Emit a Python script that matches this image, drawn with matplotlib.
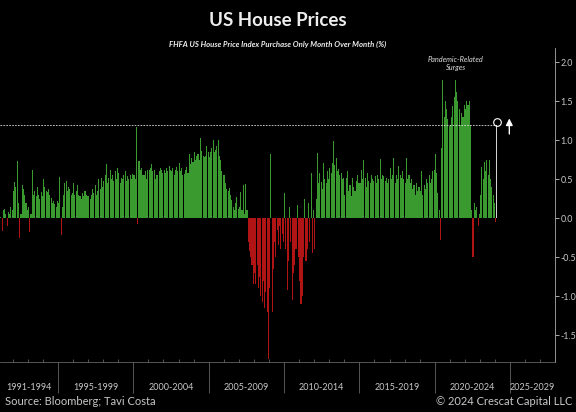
import numpy as np
import matplotlib.pyplot as plt
import matplotlib.transforms as mtransforms
from matplotlib.patches import FancyArrowPatch

# FHFA purchase-only HPI, month over month (%), Feb 1991 .. Feb 2024
mom_1991_1994 = [
    0.45, 0.02, -0.16, 0.1, 0.12, 0.05, -0.1, 0.08, 0.05, 0.15, 0.1,
    0.35, 0.46, 0.4, 0.73, 0.2, -0.25, 0.05, 0.43, 0.37, 0.3, 0.2, 0.1,
    0.15, -0.18, 0.05, 0.62, 0.3, 0.35, 0.28, 0.4, 0.3, 0.25, 0.33, 0.28,
    0.5, 0.4, 0.35, 0.33, 0.38, 0.3, 0.26, 0.2, 0.22, 0.18, 0.15, 0.22,
]
mom_1995_1999 = [
    0.2, 0.53, -0.22, 0.15, 0.3, 0.45, 0.48, 0.35, 0.4, 0.37, 0.3, 0.32,
    0.45, 0.3, 0.35, 0.42, 0.3, 0.28, 0.25, 0.32, 0.28, 0.35, 0.3, 0.28,
    0.28, 0.24, 0.3, 0.37, 0.32, 0.42, 0.3, 0.35, 0.5, 0.38, 0.52, 0.4,
    0.48, 0.55, 0.7, 0.45, 0.52, 0.62, 0.5, 0.56, 0.48, 0.6, 0.5, 0.65,
    0.58, 0.45, 0.52, 0.5, 0.55, 0.6, 0.48, 0.54, 0.5, 0.56, 0.5, 0.57,
]
mom_2000_2004 = [
    0.55, 0.5, 1.17, -0.08, 0.73, 0.62, 0.65, 0.55, 0.56, 0.6, 0.5, 0.62,
    0.62, 0.65, 0.7, 0.6, 0.62, 0.5, 0.56, 0.55, 0.6, 0.64, 0.62, 0.58,
    0.62, 0.58, 0.65, 0.6, 0.67, 0.62, 0.6, 0.65, 0.55, 0.62, 0.66, 0.6,
    0.71, 0.6, 0.65, 0.55, 0.57, 0.62, 0.66, 0.58, 0.82, 0.7, 0.77, 0.72,
    0.85, 0.74, 0.8, 0.82, 0.75, 1.03, 0.86, 0.8, 0.78, 0.8, 0.92, 0.85,
]
mom_2005_2009 = [
    0.78, 0.85, 0.9, 1.0, 0.85, 0.88, 0.92, 1.0, 0.8, 0.75, 0.6, 0.55,
    0.55, 0.45, 0.38, 0.35, 0.39, 0.3, 0.23, 0.15, 0.1, 0.2, 0.27, 0.12,
    0.15, 0.33, 0.1, 0.42, 0.05, 0.44, 0.1, -0.3, -0.42, -0.5, -0.6, -0.85,
    -0.7, -0.85, -0.6, -0.9, -0.75, -1.0, -1.07, -0.8, -1.15, -0.95, -1.2, -1.8,
    -0.9, 0.82, -1.2, -0.65, -0.3, -0.5, -0.15, -0.35, -0.1, -0.4, -0.2, -0.3,
]
mom_2010_2014 = [
    0.32, -0.4, -0.92, -0.55, 0.15, -0.3, -1.05, -0.7, -0.6, -0.4, 0.17, -0.5,
    -0.8, -1.1, -1.0, -0.5, 0.25, -0.55, -0.4, 0.2, -0.3, 0.58, -0.45, 0.1,
    -0.4, 0.25, 0.84, 0.45, 0.58, 0.47, 0.37, 0.71, 0.5, 0.45, 0.6, 0.5,
    0.65, 0.58, 0.71, 0.99, 0.68, 0.77, 0.6, 0.63, 0.55, 0.58, 0.5, 0.52,
    0.3, 0.52, 0.6, 0.35, 0.43, 0.28, 0.52, 0.4, 0.35, 0.48, 0.56, 0.45,
]
mom_2015_2019 = [
    0.45, 0.62, 0.5, 0.75, 0.52, 0.4, 0.58, 0.48, 0.45, 0.56, 0.5, 0.48,
    0.54, 0.45, 0.56, 0.5, 0.76, 0.5, 0.56, 0.54, 0.48, 0.52, 0.45, 0.5,
    0.65, 0.5, 0.55, 0.77, 0.45, 0.56, 0.5, 0.67, 0.55, 0.52, 0.6, 0.5,
    0.45, 0.77, 0.5, 0.55, 0.45, 0.5, 0.38, 0.42, 0.3, 0.45, 0.35, 0.4,
    0.35, 0.6, 0.3, 0.42, 0.38, 0.5, 0.45, 0.55, 0.45, 0.5, 0.6, 0.62,
]
mom_2020_2024 = [
    0.82, 0.58, 0.32, 0.1, -0.28, 0.9, 1.77, 1.3, 1.5, 1.4, 1.27, 1.18,
    1.2, 1.3, 1.44, 1.55, 1.77, 1.62, 1.5, 1.4, 1.2, 1.35, 1.3, 1.45,
    1.4, 1.5, 1.45, 1.5, 1.2, 0.1, -0.5, 0.2, 0.1, 0.15, -0.1, 0.05,
    0.3, 0.66, 0.5, 0.72, 0.6, 0.75, 0.55, 0.75, 0.5, 0.4, 0.3, 0.2,
    -0.05, 1.2,
]
start_year, start_month = 1991, 2

period_labels = ["1991-1994", "1995-1999", "2000-2004", "2005-2009",
                 "2010-2014", "2015-2019", "2020-2024", "2025-2029"]
period_starts = [1991, 1995, 2000, 2005, 2010, 2015, 2020, 2025]
x_min, x_max = 1991.15, 2027.98

values = np.array(mom_1991_1994 + mom_1995_1999 + mom_2000_2004 + mom_2005_2009
                  + mom_2010_2014 + mom_2015_2019 + mom_2020_2024)
# month centres as decimal years
t = start_year + (start_month - 1 + np.arange(len(values)) + 0.5) / 12
last_t, last_v = t[-1], values[-1]

green = '#3a9a30'
red = '#b01414'
grey = '#c8c8c8'

plt.rcParams['font.family'] = ['Lato', 'DejaVu Sans']
plt.rcParams['axes.unicode_minus'] = False
fig = plt.figure(figsize=(5.76, 4.12), dpi=100, facecolor='black')
ax = fig.add_axes([0.0, 0.121, 0.9635, 0.762], facecolor='black')

colors = np.where(values >= 0, green, red).tolist()
colors[-1] = '#d0d0d0'
ax.bar(t, values, width=1 / 12 * 0.85, color=colors, linewidth=0)

ax.set_xlim(x_min, x_max)
ax.set_ylim(-1.846, 2.18)

# right-hand value axis
ax.yaxis.tick_right()
ax.set_yticks(np.arange(-1.5, 2.01, 0.5))
ax.yaxis.set_major_formatter(plt.FormatStrFormatter('%.1f'))
ax.tick_params(axis='y', colors=grey, labelsize=6.4, length=3, width=0.6, pad=1)

# bottom period axis
ax.set_xticks(period_starts[1:])
ax.set_xticks(np.arange(1992, 2028), minor=True)
ax.tick_params(axis='x', which='major', direction='out', length=22, width=0.5,
               color='#777777', labelbottom=False)
ax.tick_params(axis='x', which='minor', direction='in', length=2, width=0.5,
               color='#777777')
for s in ['top', 'left']:
    ax.spines[s].set_visible(False)
ax.spines['right'].set_color('#aaaaaa')
ax.spines['right'].set_linewidth(0.6)
ax.spines['bottom'].set_color('#777777')
ax.spines['bottom'].set_linewidth(0.5)

trans = mtransforms.blended_transform_factory(ax.transData, ax.transAxes)
edges = period_starts + [2030]
for lab, a, b in zip(period_labels, edges[:-1], edges[1:]):
    lo, hi = max(a, x_min), min(b, x_max)
    ax.text((lo + hi) / 2, -0.082, lab, transform=trans, ha='center', va='center',
            fontsize=6.5, color=grey, clip_on=False)

# latest reading marker
ax.plot([x_min, last_t - 0.12], [last_v, last_v], color='#dddddd', lw=0.6,
        ls=(0, (2, 1.5)))
ax.plot(last_t, last_v + 0.04, 'o', ms=5.5, mfc='none', mec='white', mew=0.8)
ax.add_patch(FancyArrowPatch((2024.95, last_v - 0.12), (2024.95, last_v + 0.08),
                             arrowstyle='-|>,head_width=2,head_length=4',
                             color='white', lw=1.0, shrinkA=0, shrinkB=0))
ax.text(1.017, last_v, f'{last_v:.1f}', transform=trans, ha='left', va='center',
        fontsize=7, color='#e8ffe0', clip_on=False,
        bbox=dict(boxstyle='round,pad=0.2', fc='#3aa83a', ec='none'))

ax.text(2021.4, 1.98, 'Pandemic-Related\nSurges', ha='center', va='center',
        fontsize=5.3, style='italic', color='#dddddd', linespacing=1.1)

mid = 0.9635 / 2
fig.text(mid, 0.951, 'US House Prices', ha='center', va='center',
         fontsize=13.5, fontweight='bold', color='#eeeeee')
fig.text(mid, 0.893, 'FHFA US House Price Index Purchase Only Month Over Month (%)',
         ha='center', va='center', fontsize=5.6, fontweight='bold',
         style='italic', color='#eeeeee')
fig.text(0.009, 0.025, 'Source: Bloomberg; Tavi Costa', ha='left', va='center',
         fontsize=8, color=grey)
fig.text(0.993, 0.025, '\u00a9 2024 Crescat Capital LLC', ha='right', va='center',
         fontsize=8, color=grey)

fig.savefig('out.png', dpi=100, facecolor='black')
